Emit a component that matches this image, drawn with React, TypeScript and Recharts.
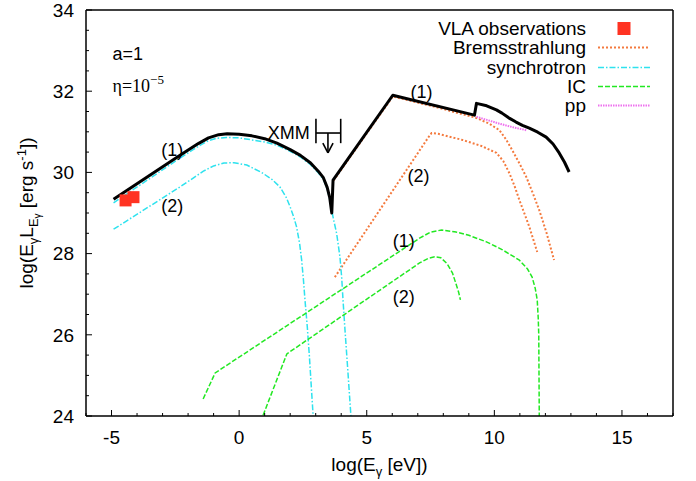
import React from "react";
import {
  ComposedChart,
  Line,
  Scatter,
  XAxis,
  YAxis,
  ReferenceLine,
  ReferenceDot,
  Legend,
} from "recharts";

// log(E) [eV] vs log(E L_E) [erg/s]
const TOTAL = [
  [-4.92, 29.34], [-2.3, 30.43], [-1.6, 30.71], [-1.2, 30.85], [-0.8, 30.93], [-0.47, 30.95],
  [0, 30.94], [0.5, 30.9], [1.0, 30.83], [1.48, 30.72], [2.0, 30.56], [2.4, 30.42], [2.8, 30.23],
  [3.1, 30.03], [3.3, 29.87], [3.45, 29.63], [3.55, 29.38], [3.63, 29.0], [3.68, 29.81],
  [6.02, 31.9], [9.22, 31.41], [9.3, 31.7], [9.7, 31.64], [10.08, 31.54], [10.3, 31.46],
  [10.6, 31.33], [10.85, 31.24], [11.1, 31.16], [11.37, 31.09], [11.7, 30.99], [12.03, 30.87],
  [12.3, 30.7], [12.54, 30.48], [12.75, 30.25], [12.93, 30.01],
];
const SYNCH_1 = [
  [-4.92, 29.25], [-2.3, 30.36], [-1.5, 30.68], [-1.2, 30.78], [-0.9, 30.84], [-0.5, 30.86],
  [0, 30.85], [0.5, 30.8], [1.0, 30.75], [1.48, 30.67], [2.0, 30.52], [2.4, 30.38], [2.8, 30.19],
  [3.1, 29.99], [3.3, 29.83], [3.45, 29.59], [3.55, 29.34], [3.62, 29.1], [3.68, 28.9],
  [3.82, 28.5], [3.95, 27.92], [4.02, 27.4], [4.07, 26.86], [4.15, 26.1], [4.25, 25.2], [4.38, 24.0],
];
const SYNCH_2 = [
  [-4.92, 28.6], [-2.3, 29.65], [-1.8, 29.86], [-1.4, 30.03], [-1.0, 30.16], [-0.6, 30.23],
  [-0.2, 30.24], [0.3, 30.18], [0.88, 30.0], [1.3, 29.82], [1.6, 29.64], [1.85, 29.38],
  [2.0, 29.15], [2.15, 28.88], [2.25, 28.66], [2.37, 28.25], [2.45, 27.84], [2.52, 27.35],
  [2.58, 26.86], [2.67, 26.2], [2.75, 25.5], [2.83, 24.7], [2.9, 24.0],
];
const BREMS_1 = [
  [3.7, 29.8], [6.02, 31.87], [7.0, 31.72], [8.0, 31.56], [9.3, 31.34], [9.8, 31.2],
  [10.2, 31.04], [10.45, 30.82], [10.7, 30.55], [11.0, 30.2], [11.25, 29.89], [11.5, 29.5],
  [11.76, 29.07], [12.05, 28.5], [12.34, 27.84],
];
const BREMS_2 = [
  [3.75, 27.42], [7.4, 30.85], [7.54, 30.97], [7.8, 30.95], [8.75, 30.8], [9.5, 30.65],
  [10.08, 30.48], [10.35, 30.28], [10.59, 29.98], [10.8, 29.65], [10.98, 29.32], [11.2, 28.95],
  [11.37, 28.66], [11.55, 28.3], [11.68, 28.04],
];
const IC_1 = [
  [-1.41, 24.42], [-0.94, 25.06], [7.07, 28.38], [7.5, 28.53], [7.93, 28.58], [8.5, 28.53],
  [9.0, 28.45], [9.69, 28.29], [10.3, 28.1], [10.98, 27.84], [11.3, 27.62], [11.48, 27.42],
  [11.6, 27.15], [11.68, 26.86], [11.72, 26.4], [11.74, 26.0], [11.76, 24.0],
];
const IC_2 = [
  [0.94, 24.02], [1.87, 25.53], [7.07, 27.77], [7.4, 27.88], [7.66, 27.92], [7.9, 27.9],
  [8.15, 27.75], [8.36, 27.52], [8.5, 27.25], [8.6, 27.05], [8.67, 26.86],
];
const PP = [[9.3, 31.37], [10.2, 31.2], [10.8, 31.1], [11.25, 31.04]];
const VLA = [[-4.45, 29.31], [-4.14, 29.39]];

const X_TICKS = [-6, -5, -4, -3, -2, -1, 0, 1, 2, 3, 4, 5, 6, 7, 8, 9, 10, 11, 12, 13, 14, 15, 16, 17];
const Y_TICKS = [24, 24.5, 25, 25.5, 26, 26.5, 27, 27.5, 28, 28.5, 29, 29.5, 30, 30.5, 31, 31.5, 32, 32.5, 33, 33.5, 34];

// XMM upper limit bracket
const XMM_X = [3.01, 3.98];
const XMM_Y = [30.72, 31.32];
const XMM_MID = 30.97;
const XMM_ARROW = { x: 3.48, tip: 30.48, head: 30.72, half: 0.2 };

const CURVE_LABELS = [
  { x: -2.62, y: 30.55, text: "(1)" },
  { x: -2.62, y: 29.17, text: "(2)" },
  { x: 7.15, y: 31.98, text: "(1)" },
  { x: 7.03, y: 29.91, text: "(2)" },
  { x: 6.45, y: 28.33, text: "(1)" },
  { x: 6.45, y: 26.93, text: "(2)" },
];

const toPts = (a: number[][]) => a.map(([x, y]) => ({ x, y }));

const SANS = "'Liberation Sans', Arial, Helvetica, sans-serif";
const SERIF = "'Liberation Serif', 'Times New Roman', serif";
const FS = 19;

const C_BREMS = "#F47A3E";
const C_SYNCH = "#2EE2EE";
const C_IC = "#22E822";
const C_PP = "#EE70EE";
const C_VLA = "#FF3322";

const BottomTick = (p: any) => {
  const v = p.payload.value;
  const major = v % 5 === 0;
  return (
    <g>
      <line x1={p.x} x2={p.x} y1={p.y} y2={p.y - (major ? 6 : 3)} stroke="#000" strokeWidth={1} />
      {major && (
        <text x={p.x} y={p.y + 28} textAnchor="middle" fontSize={FS} fontFamily={SANS} fill="#000">
          {v}
        </text>
      )}
    </g>
  );
};
const TopTick = (p: any) => {
  const major = p.payload.value % 5 === 0;
  return <line x1={p.x} x2={p.x} y1={p.y} y2={p.y + (major ? 6 : 3)} stroke="#000" strokeWidth={1} />;
};
const LeftTick = (p: any) => {
  const v = p.payload.value;
  const major = v % 2 === 0;
  return (
    <g>
      <line x1={p.x} x2={p.x + (major ? 6 : 3)} y1={p.y} y2={p.y} stroke="#000" strokeWidth={1} />
      {major && (
        <text x={p.x - 12} y={p.y} dy="0.36em" textAnchor="end" fontSize={FS} fontFamily={SANS} fill="#000">
          {v}
        </text>
      )}
    </g>
  );
};
const RightTick = (p: any) => {
  const major = p.payload.value % 2 === 0;
  return <line x1={p.x} x2={p.x - (major ? 6 : 3)} y1={p.y} y2={p.y} stroke="#000" strokeWidth={1} />;
};

const XTitle = (p: any) => {
  const vb = p.viewBox ?? { x: 86, y: 416, width: 587, height: 30 };
  return (
    <text x={vb.x + vb.width / 2} y={vb.y + 55} textAnchor="middle" fontSize={FS} fontFamily={SANS} fill="#000">
      log(E<tspan dy={5} fontSize={13}>γ</tspan>
      <tspan dy={-5}> [eV])</tspan>
    </text>
  );
};
const YTitle = (p: any) => {
  const vb = p.viewBox ?? { x: 56, y: 10, width: 30, height: 406 };
  const x = vb.x + vb.width - 53;
  const y = vb.y + vb.height / 2;
  return (
    <text
      x={x}
      y={y}
      transform={`rotate(-90 ${x} ${y})`}
      textAnchor="middle"
      fontSize={FS}
      fontFamily={SANS}
      fill="#000"
    >
      log(E<tspan dy={5} fontSize={13}>γ</tspan>
      <tspan dy={-5}>L</tspan>
      <tspan dy={5} fontSize={13}>E</tspan>
      <tspan dy={3} fontSize={10}>γ</tspan>
      <tspan dy={-8}> [erg s</tspan>
      <tspan dy={-7} fontSize={13}>-1</tspan>
      <tspan dy={7}>])</tspan>
    </text>
  );
};

const LEGEND_ROWS = [
  { label: "VLA observations", color: C_VLA, dash: "", square: true, width: 0 },
  { label: "Bremsstrahlung", color: C_BREMS, dash: "2 2", square: false, width: 2 },
  { label: "synchrotron", color: C_SYNCH, dash: "6 2 1.5 2", square: false, width: 1.5 },
  { label: "IC", color: C_IC, dash: "5 2", square: false, width: 1.5 },
  { label: "pp", color: C_PP, dash: "1.5 1", square: false, width: 2 },
];

const LegendBox = () => (
  <div style={{ fontFamily: SANS, fontSize: FS, color: "#000" }}>
    {LEGEND_ROWS.map((r) => (
      <div key={r.label} style={{ display: "flex", alignItems: "center", height: 19.25, lineHeight: "19.25px" }}>
        <span style={{ width: 286, textAlign: "right", whiteSpace: "nowrap" }}>{r.label}</span>
        <svg width={70} height={19} style={{ display: "block" }}>
          {r.square ? (
            <rect x={31.5} y={3} width={13} height={13} fill={r.color} />
          ) : (
            <line x1={12} x2={64} y1={9.5} y2={9.5} stroke={r.color} strokeWidth={r.width} strokeDasharray={r.dash} />
          )}
        </svg>
      </div>
    ))}
  </div>
);

const VlaSquare = (p: any) => <rect x={p.cx - 6} y={p.cy - 6} width={12} height={12} fill={C_VLA} />;

const TextAt = (text: string, anchor: string, font: string) => (p: any) => (
  <text x={p.cx} y={p.cy} textAnchor={anchor} dy="0.35em" fontSize={FS - 1} fontFamily={font} fill="#000">
    {text}
  </text>
);

export default function App() {
  const seg = (x1: number, y1: number, x2: number, y2: number, key: string) => (
    <ReferenceLine
      key={key}
      segment={[{ x: x1, y: y1 }, { x: x2, y: y2 }]}
      stroke="#000"
      strokeWidth={1.6}
      ifOverflow="visible"
    />
  );
  return (
    <div style={{ position: "absolute", left: 0, top: 0, width: 696, height: 481, background: "#fff" }}>
      <ComposedChart width={696} height={481} margin={{ top: 5, right: 18, bottom: 35, left: 56 }}>
        <XAxis
          dataKey="x"
          type="number"
          domain={[-6, 17]}
          ticks={X_TICKS}
          interval={0}
          height={30}
          tickSize={0}
          tickMargin={0}
          tick={BottomTick}
          axisLine={{ stroke: "#000", strokeWidth: 1.5 }}
          tickLine={false}
          allowDataOverflow
          label={XTitle}
        />
        <XAxis
          xAxisId="top"
          orientation="top"
          type="number"
          domain={[-6, 17]}
          ticks={X_TICKS}
          interval={0}
          height={5}
          tickSize={0}
          tickMargin={0}
          tick={TopTick}
          axisLine={{ stroke: "#000", strokeWidth: 1.5 }}
          tickLine={false}
        />
        <YAxis
          type="number"
          domain={[24, 34]}
          ticks={Y_TICKS}
          interval={0}
          width={30}
          tickSize={0}
          tickMargin={0}
          tick={LeftTick}
          axisLine={{ stroke: "#000", strokeWidth: 1.5 }}
          tickLine={false}
          allowDataOverflow
          label={YTitle}
        />
        <YAxis
          yAxisId="right"
          orientation="right"
          type="number"
          domain={[24, 34]}
          ticks={Y_TICKS}
          interval={0}
          width={5}
          tickSize={0}
          tickMargin={0}
          tick={RightTick}
          axisLine={{ stroke: "#000", strokeWidth: 1.5 }}
          tickLine={false}
        />
        <Legend
          content={LegendBox}
          layout="vertical"
          align="center"
          verticalAlign="middle"
          wrapperStyle={{ top: 19, left: 300, width: 360, height: 100 }}
        />

        <Scatter data={toPts(VLA)} dataKey="y" shape={VlaSquare} isAnimationActive={false} />

        <Line data={toPts(BREMS_2)} dataKey="y" type="linear" stroke={C_BREMS} strokeWidth={2} strokeDasharray="2 2" dot={false} isAnimationActive={false} />
        <Line data={toPts(BREMS_1)} dataKey="y" type="linear" stroke={C_BREMS} strokeWidth={2} strokeDasharray="2 2" dot={false} isAnimationActive={false} />
        <Line data={toPts(SYNCH_2)} dataKey="y" type="linear" stroke={C_SYNCH} strokeWidth={1.5} strokeDasharray="6 2 1.5 2" dot={false} isAnimationActive={false} />
        <Line data={toPts(SYNCH_1)} dataKey="y" type="linear" stroke={C_SYNCH} strokeWidth={1.5} strokeDasharray="6 2 1.5 2" dot={false} isAnimationActive={false} />
        <Line data={toPts(IC_2)} dataKey="y" type="linear" stroke={C_IC} strokeWidth={1.5} strokeDasharray="5 2" dot={false} isAnimationActive={false} />
        <Line data={toPts(IC_1)} dataKey="y" type="linear" stroke={C_IC} strokeWidth={1.5} strokeDasharray="5 2" dot={false} isAnimationActive={false} />
        <Line data={toPts(PP)} dataKey="y" type="linear" stroke={C_PP} strokeWidth={2} strokeDasharray="1.5 1" dot={false} isAnimationActive={false} />
        <Line data={toPts(TOTAL)} dataKey="y" type="linear" stroke="#000" strokeWidth={3} strokeLinejoin="round" dot={false} isAnimationActive={false} />

        {seg(XMM_X[0], XMM_Y[0], XMM_X[0], XMM_Y[1], "b1")}
        {seg(XMM_X[1], XMM_Y[0], XMM_X[1], XMM_Y[1], "b2")}
        {seg(XMM_X[0], XMM_MID, XMM_X[1], XMM_MID, "bm")}
        {seg(XMM_ARROW.x, XMM_MID, XMM_ARROW.x, XMM_ARROW.tip, "ar")}
        {seg(XMM_ARROW.x - XMM_ARROW.half, XMM_ARROW.head, XMM_ARROW.x, XMM_ARROW.tip, "h1")}
        {seg(XMM_ARROW.x + XMM_ARROW.half, XMM_ARROW.head, XMM_ARROW.x, XMM_ARROW.tip, "h2")}

        <ReferenceDot x={2.77} y={30.97} r={0} shape={TextAt("XMM", "end", SANS)} />
        <ReferenceDot x={-4.96} y={32.93} r={0} shape={TextAt("a=1", "start", SANS)} />
        <ReferenceDot
          x={-4.96}
          y={32.14}
          r={0}
          shape={(p: any) => (
            <text x={p.cx} y={p.cy} dy="0.35em" fontSize={18} fontFamily={SERIF} fill="#000">
              η=10<tspan dy={-8} fontSize={13}>−5</tspan>
            </text>
          )}
        />
        {CURVE_LABELS.map((l, i) => (
          <ReferenceDot key={"l" + i} x={l.x} y={l.y} r={0} shape={TextAt(l.text, "middle", SANS)} />
        ))}
      </ComposedChart>
    </div>
  );
}
